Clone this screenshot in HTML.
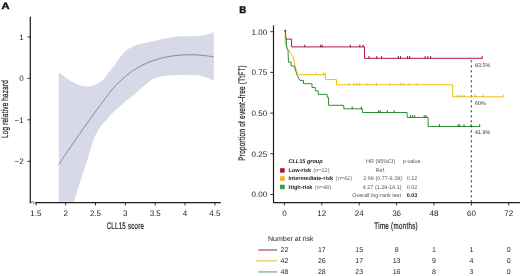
<!DOCTYPE html>
<html><head><meta charset="utf-8"><style>
html,body{margin:0;padding:0;background:#fff;width:520px;height:276px;overflow:hidden}
svg{display:block;will-change:transform}
text{font-family:"Liberation Sans", sans-serif;text-rendering:geometricPrecision}
</style></head><body>
<svg width="520" height="276" viewBox="0 0 520 276">
<text transform="translate(1.6,9.25) scale(1.2,1)" font-size="9.3" font-weight="bold" fill="#111" stroke="#111" stroke-width="0.45">A</text>
<path fill="#d7d8e8" d="M58.8,72.7C59.43,73.12 61.12,74.15 62.6,75.2C64.08,76.25 65.8,77.73 67.7,79C69.6,80.27 71.88,81.73 74,82.8C76.12,83.87 78.28,84.77 80.4,85.4C82.52,86.03 84.8,86.5 86.7,86.6C88.6,86.7 90.1,86.42 91.8,86C93.5,85.58 95.28,84.93 96.9,84.1C98.52,83.27 100.15,82.12 101.5,81C102.85,79.88 103.88,78.73 105,77.4C106.12,76.07 107.12,74.4 108.2,73C109.28,71.6 110.33,70.4 111.5,69C112.67,67.6 114.03,66.17 115.2,64.6C116.37,63.03 117.45,61.1 118.5,59.6C119.55,58.1 120.5,56.87 121.5,55.6C122.5,54.33 123.45,53.05 124.5,52C125.55,50.95 126.55,50.15 127.8,49.3C129.05,48.45 130.52,47.62 132,46.9C133.48,46.18 135.12,45.52 136.7,45C138.28,44.48 139.8,44.18 141.5,43.8C143.2,43.42 145.23,43.07 146.9,42.7C148.57,42.33 150.02,41.93 151.5,41.6C152.98,41.27 154.3,41.03 155.8,40.7C157.3,40.37 158.97,39.97 160.5,39.6C162.03,39.23 163.42,38.87 165,38.5C166.58,38.13 168.5,37.67 170,37.4C171.5,37.13 172.13,37.08 174,36.9C175.87,36.72 178.78,36.4 181.2,36.3C183.62,36.2 186.08,36.32 188.5,36.3C190.92,36.28 193.28,36.35 195.7,36.2C198.12,36.05 200.82,35.77 203,35.4C205.18,35.03 207,34.57 208.8,34C210.6,33.43 212.97,32.33 213.8,32L213.8,81C212.97,80.6 210.6,79.4 208.8,78.6C207,77.8 205.18,76.77 203,76.2C200.82,75.63 198.12,75.42 195.7,75.2C193.28,74.98 190.92,74.95 188.5,74.9C186.08,74.85 183.62,74.85 181.2,74.9C178.78,74.95 176.42,75.07 174,75.2C171.58,75.33 169.12,75.45 166.7,75.7C164.28,75.95 161.67,76.22 159.5,76.7C157.33,77.18 155.4,77.77 153.7,78.6C152,79.43 151.05,80.37 149.3,81.7C147.55,83.03 145.18,84.97 143.2,86.6C141.22,88.23 139.33,89.8 137.4,91.5C135.47,93.2 133.53,95.22 131.6,96.8C129.67,98.38 127.53,99.58 125.8,101C124.07,102.42 122.57,104.03 121.2,105.3C119.83,106.57 118.87,107.48 117.6,108.6C116.33,109.72 114.8,110.88 113.6,112C112.4,113.12 111.33,114.27 110.4,115.3C109.47,116.33 108.82,117.25 108,118.2C107.18,119.15 106.4,120.02 105.5,121C104.6,121.98 103.58,122.95 102.6,124.1C101.62,125.25 100.5,126.63 99.6,127.9C98.7,129.17 97.98,130.3 97.2,131.7C96.42,133.1 95.67,134.52 94.9,136.3C94.13,138.08 93.37,140.12 92.6,142.4C91.83,144.68 91.17,147.07 90.3,150C89.43,152.93 88.73,155.83 87.4,160C86.07,164.17 83.93,170 82.3,175C80.67,180 79.02,185.53 77.6,190C76.18,194.47 74.43,199.83 73.8,201.8L58.8,201.8Z"/>
<path fill="none" stroke="#767aa4" stroke-width="0.85" d="M58.8,164.66C59.3,163.9 60.8,161.61 61.8,160.09C62.8,158.57 63.8,157.06 64.8,155.56C65.8,154.06 66.8,152.56 67.8,151.07C68.8,149.58 69.8,148.1 70.8,146.63C71.8,145.15 72.8,143.69 73.8,142.22C74.8,140.76 75.8,139.31 76.8,137.86C77.8,136.42 78.8,134.98 79.8,133.54C80.8,132.11 81.8,130.68 82.8,129.26C83.8,127.84 84.8,126.43 85.8,125.03C86.8,123.62 87.8,122.22 88.8,120.83C89.8,119.44 90.8,118.05 91.8,116.68C92.8,115.3 93.8,113.93 94.8,112.56C95.8,111.2 96.8,109.84 97.8,108.49C98.8,107.14 99.8,105.8 100.8,104.46C101.8,103.13 103.27,101.19 103.8,100.48C104.33,99.76 103.47,100.91 104,100.17C104.53,99.43 106,97.35 107,96.02C108,94.68 109,93.4 110,92.16C111,90.92 112,89.73 113,88.57C114,87.42 115,86.32 116,85.25C117,84.18 118,83.16 119,82.17C120,81.18 121,80.23 122,79.32C123,78.41 124,77.53 125,76.69C126,75.85 127,75.04 128,74.27C129,73.49 130,72.75 131,72.04C132,71.33 133,70.65 134,70C135,69.34 136,68.72 137,68.12C138,67.53 139,66.96 140,66.41C141,65.87 142,65.35 143,64.86C144,64.36 145,63.89 146,63.44C147,62.99 148,62.57 149,62.16C150,61.75 151,61.37 152,61.01C153,60.64 154,60.3 155,59.97C156,59.64 157,59.34 158,59.04C159,58.75 160,58.48 161,58.23C162,57.97 163,57.73 164,57.5C165,57.28 166,57.07 167,56.88C168,56.68 169,56.51 170,56.34C171,56.17 172,56.02 173,55.89C174,55.75 175,55.62 176,55.51C177,55.4 178,55.3 179,55.22C180,55.13 181,55.06 182,55C183,54.93 184,54.88 185,54.85C186,54.81 187,54.78 188,54.77C189,54.75 190,54.75 191,54.76C192,54.77 193,54.79 194,54.82C195,54.85 196,54.9 197,54.95C198,55.01 199,55.07 200,55.15C201,55.23 202,55.32 203,55.42C204,55.52 205,55.64 206,55.76C207,55.89 208,56.03 209,56.18C210,56.33 211.2,56.54 212,56.68C212.8,56.82 213.5,56.96 213.8,57.01"/>
<path d="M30.3,16.7 V202.55" fill="none" stroke="#1e1e1e" stroke-width="1.25"/>
<path d="M29.8,202.55 H31.3 M35.2,202.55 H220.8" fill="none" stroke="#1e1e1e" stroke-width="1.15"/>
<path d="M31.2,202.6 L32.6,201.1 L34,203.7 L35.4,202.3" fill="none" stroke="#555" stroke-width="0.8"/>
<path d="M27.4,36.95 H30.2" stroke="#1e1e1e" stroke-width="0.9"/>
<text x="23.7" y="39.8" font-size="8" fill="#262626" text-anchor="end">1</text>
<path d="M27.4,78.4 H30.2" stroke="#1e1e1e" stroke-width="0.9"/>
<text x="23.7" y="81.25" font-size="8" fill="#262626" text-anchor="end">0</text>
<path d="M27.4,119.85 H30.2" stroke="#1e1e1e" stroke-width="0.9"/>
<text x="23.7" y="122.7" font-size="8" fill="#262626" text-anchor="end">−1</text>
<path d="M27.4,161.3 H30.2" stroke="#1e1e1e" stroke-width="0.9"/>
<text x="23.7" y="164.15" font-size="8" fill="#262626" text-anchor="end">−2</text>
<path d="M36.1,202.6 V205.5" stroke="#1e1e1e" stroke-width="0.9"/>
<text x="35.8" y="216.2" font-size="8" fill="#262626" text-anchor="middle">1.5</text>
<path d="M65.65,202.6 V205.5" stroke="#1e1e1e" stroke-width="0.9"/>
<text x="65.65" y="216.2" font-size="8" fill="#262626" text-anchor="middle">2</text>
<path d="M95.5,202.6 V205.5" stroke="#1e1e1e" stroke-width="0.9"/>
<text x="95.5" y="216.2" font-size="8" fill="#262626" text-anchor="middle">2.5</text>
<path d="M125.35,202.6 V205.5" stroke="#1e1e1e" stroke-width="0.9"/>
<text x="125.35" y="216.2" font-size="8" fill="#262626" text-anchor="middle">3</text>
<path d="M155.2,202.6 V205.5" stroke="#1e1e1e" stroke-width="0.9"/>
<text x="155.2" y="216.2" font-size="8" fill="#262626" text-anchor="middle">3.5</text>
<path d="M185.05,202.6 V205.5" stroke="#1e1e1e" stroke-width="0.9"/>
<text x="185.05" y="216.2" font-size="8" fill="#262626" text-anchor="middle">4</text>
<path d="M214.9,202.6 V205.5" stroke="#1e1e1e" stroke-width="0.9"/>
<text x="214.9" y="216.2" font-size="8" fill="#262626" text-anchor="middle">4.5</text>
<text transform="translate(125.45,229.4) scale(0.64,1)" letter-spacing="0.445" font-size="9.5" fill="#222" stroke="#222" stroke-width="0.22" text-anchor="middle">CLL15 score</text>
<text transform="translate(8.2,108.98) rotate(-90) scale(0.66,1)" letter-spacing="0.36" font-size="9.5" fill="#222" stroke="#222" stroke-width="0.22" text-anchor="middle">Log relative hazard</text>
<text transform="translate(239.2,12.6) scale(0.97,1)" font-size="10" font-weight="bold" fill="#111" stroke="#111" stroke-width="0.45">B</text>
<path d="M471.3,60.2 V202.6" stroke="#222" stroke-width="0.9" stroke-dasharray="2.2 2.8"/>
<path d="M285.4,30.7 V39.1 H291.6 V46.9 H364.5 V58.3 H482.5" fill="none" stroke="#b8173f" stroke-width="1"/>
<path d="M285.4,30.7 L285.2,43.5 L287,47.5 L289.2,51 L291.2,54 L292.9,56.8 L294,60 L294.9,65.6 L296.5,70.5 L297.6,73.5 L298.7,74.7 H325.4 V79.6 H336.5 V84.8 H452.7 V96.8 H503.3" fill="none" stroke="#ecbf0c" stroke-width="1"/>
<path d="M285.4,30.7 L286.8,48 L288,50.4 L288.5,62.2 H291.1 V66 H294.3 L295.8,71.4 L297.5,75.8 L298.5,78 L299.8,80.4 H303.5 V83.7 H312 V87.5 H315.3 V90.8 H318.2 V94.3 H327.1 V97.4 H328.6 V105.3 H343.8 V108.8 H362.4 V112.5 H407.1 V117.4 H428.1 V126.5 H480" fill="none" stroke="#348a38" stroke-width="1"/>
<path d="M304.8,44.7V47.2M320.7,44.7V47.2M322.2,44.7V47.2M350.3,44.7V47.2M359.8,44.7V47.2M363,44.7V47.2M368.9,56.1V58.6M376.8,56.1V58.6M381.7,56.1V58.6M398.4,56.1V58.6M400.6,56.1V58.6M407.6,56.1V58.6M409.7,56.1V58.6M425.2,56.1V58.6M427.8,56.1V58.6M430.7,56.1V58.6M482.2,56.1V58.6" stroke="#8e0f2e" stroke-width="1"/>
<path d="M316.2,72.5V75M323.5,72.5V75M324.8,72.5V75M348.8,82.6V85.1M354,82.6V85.1M356.6,82.6V85.1M359.2,82.6V85.1M367,82.6V85.1M376.5,82.6V85.1M390,82.6V85.1M400.7,82.6V85.1M403.3,82.6V85.1M409.4,82.6V85.1M417.2,82.6V85.1M457.5,94.6V97.1M459.5,94.6V97.1M462.2,94.6V97.1M464.2,94.6V97.1M474.3,94.6V97.1M476,94.6V97.1M483.1,94.6V97.1M503.3,94.6V97.1" stroke="#c8a83a" stroke-width="0.7"/>
<path d="M352.2,106.6V109.1M361.2,106.6V109.1M378.7,110.3V112.8M380.2,110.3V112.8M387.3,110.3V112.8M394,110.3V112.8M410.3,115.2V117.7M412.4,115.2V117.7M414.7,115.2V117.7M424.2,115.2V117.7M426,115.2V117.7M439.4,124.3V126.8M458,124.3V126.8M459.7,124.3V126.8M464,124.3V126.8M471,124.3V126.8M479.7,124.3V126.8" stroke="#1f6424" stroke-width="1"/>
<circle cx="285.3" cy="30.7" r="0.95" fill="#6e2238"/>
<path d="M273.5,25.4 V202.55" fill="none" stroke="#1e1e1e" stroke-width="1.2"/>
<path d="M273,202.55 H520" fill="none" stroke="#1e1e1e" stroke-width="1.15"/>
<path d="M270.3,194.5 H273.4" stroke="#1e1e1e" stroke-width="0.9"/>
<text x="267.1" y="197.3" font-size="8" fill="#262626" text-anchor="end">0.00</text>
<path d="M270.3,153.8 H273.4" stroke="#1e1e1e" stroke-width="0.9"/>
<text x="267.1" y="156.6" font-size="8" fill="#262626" text-anchor="end">0.25</text>
<path d="M270.3,113.1 H273.4" stroke="#1e1e1e" stroke-width="0.9"/>
<text x="267.1" y="115.9" font-size="8" fill="#262626" text-anchor="end">0.50</text>
<path d="M270.3,72.4 H273.4" stroke="#1e1e1e" stroke-width="0.9"/>
<text x="267.1" y="75.2" font-size="8" fill="#262626" text-anchor="end">0.75</text>
<path d="M270.3,31.7 H273.4" stroke="#1e1e1e" stroke-width="0.9"/>
<text x="267.1" y="34.5" font-size="8" fill="#262626" text-anchor="end">1.00</text>
<path d="M284.4,202.6 V205.5" stroke="#1e1e1e" stroke-width="0.9"/>
<text x="284.4" y="216.3" font-size="8" fill="#262626" text-anchor="middle">0</text>
<path d="M321.8,202.6 V205.5" stroke="#1e1e1e" stroke-width="0.9"/>
<text x="321.8" y="216.3" font-size="8" fill="#262626" text-anchor="middle">12</text>
<path d="M359.2,202.6 V205.5" stroke="#1e1e1e" stroke-width="0.9"/>
<text x="359.2" y="216.3" font-size="8" fill="#262626" text-anchor="middle">24</text>
<path d="M396.6,202.6 V205.5" stroke="#1e1e1e" stroke-width="0.9"/>
<text x="396.6" y="216.3" font-size="8" fill="#262626" text-anchor="middle">36</text>
<path d="M434,202.6 V205.5" stroke="#1e1e1e" stroke-width="0.9"/>
<text x="434" y="216.3" font-size="8" fill="#262626" text-anchor="middle">48</text>
<path d="M471.4,202.6 V205.5" stroke="#1e1e1e" stroke-width="0.9"/>
<text x="471.4" y="216.3" font-size="8" fill="#262626" text-anchor="middle">60</text>
<path d="M508.8,202.6 V205.5" stroke="#1e1e1e" stroke-width="0.9"/>
<text x="508.8" y="216.3" font-size="8" fill="#262626" text-anchor="middle">72</text>
<text transform="translate(396.15,228.9) scale(0.65,1)" letter-spacing="0.47" font-size="9.5" fill="#222" stroke="#222" stroke-width="0.22" text-anchor="middle">Time (months)</text>
<text transform="translate(244.7,112.87) rotate(-90) scale(0.67,1)" letter-spacing="0.384" font-size="9.5" fill="#222" stroke="#222" stroke-width="0.22" text-anchor="middle">Proportion of event–free (TtFT)</text>
<text x="475.1" y="66.6" font-size="5.4" fill="#333">83.5%</text>
<text x="475.1" y="105.3" font-size="5.4" fill="#333">60%</text>
<text x="475.1" y="134.1" font-size="5.4" fill="#333">41.9%</text>
<rect x="280.1" y="168.2" width="4.6" height="4.5" fill="#b3122e"/>
<rect x="280.1" y="176.3" width="4.6" height="4.5" fill="#f0b020"/>
<rect x="280.1" y="184.7" width="4.6" height="4.5" fill="#2f9e3f"/>
<text x="288.4" y="163" font-size="5.55" font-weight="bold" font-style="italic" fill="#222">CLL15 group</text>
<text x="288.4" y="171.8" font-size="5.55" font-weight="bold" fill="#222">Low-risk</text>
<text x="313.3" y="171.8" font-size="5.55" fill="#666">(n=22)</text>
<text x="288.4" y="180.2" font-size="5.55" font-weight="bold" fill="#222">Intermediate-risk</text>
<text x="335.8" y="180.2" font-size="5.55" fill="#666">(n=42)</text>
<text x="288.4" y="188.6" font-size="5.55" font-weight="bold" fill="#222">High-risk</text>
<text x="314.8" y="188.6" font-size="5.55" fill="#666">(n=48)</text>
<text x="380.7" y="162.8" font-size="5.45" fill="#555" text-anchor="middle">HR (95%CI)</text>
<text x="402.7" y="162.8" font-size="5.45" fill="#555">p-value</text>
<text x="380.5" y="171.5" font-size="5.45" fill="#555" text-anchor="middle">Ref.</text>
<text x="402" y="180.2" font-size="5.45" fill="#555" text-anchor="end">2.69 (0.77-9.39)</text>
<text x="406.7" y="180.2" font-size="5.45" fill="#555">0.12</text>
<text x="401.5" y="188.5" font-size="5.45" fill="#555" text-anchor="end">4.27 (1.29-14.1)</text>
<text x="406.7" y="188.5" font-size="5.45" fill="#555">0.02</text>
<text x="401" y="196.9" font-size="5.45" fill="#555" text-anchor="end">Overall log-rank test</text>
<text x="406.7" y="196.9" font-size="5.45" font-weight="bold" fill="#222">0.03</text>
<text x="268" y="241.3" font-size="7" fill="#262626">Number at risk</text>
<path d="M258.3,250 H277.2" stroke="#b4607f" stroke-width="1.4"/>
<text x="284.4" y="252.15" font-size="7" fill="#262626" text-anchor="middle">22</text>
<text x="321.8" y="252.15" font-size="7" fill="#262626" text-anchor="middle">17</text>
<text x="359.2" y="252.15" font-size="7" fill="#262626" text-anchor="middle">15</text>
<text x="396.6" y="252.15" font-size="7" fill="#262626" text-anchor="middle">8</text>
<text x="434" y="252.15" font-size="7" fill="#262626" text-anchor="middle">1</text>
<text x="471.4" y="252.15" font-size="7" fill="#262626" text-anchor="middle">1</text>
<text x="508.8" y="252.15" font-size="7" fill="#262626" text-anchor="middle">0</text>
<path d="M256,260.8 H277.2" stroke="#e2d26c" stroke-width="1.4"/>
<text x="284.4" y="263.35" font-size="7" fill="#262626" text-anchor="middle">42</text>
<text x="321.8" y="263.35" font-size="7" fill="#262626" text-anchor="middle">26</text>
<text x="359.2" y="263.35" font-size="7" fill="#262626" text-anchor="middle">17</text>
<text x="396.6" y="263.35" font-size="7" fill="#262626" text-anchor="middle">13</text>
<text x="434" y="263.35" font-size="7" fill="#262626" text-anchor="middle">9</text>
<text x="471.4" y="263.35" font-size="7" fill="#262626" text-anchor="middle">4</text>
<text x="508.8" y="263.35" font-size="7" fill="#262626" text-anchor="middle">0</text>
<path d="M258.3,271.9 H277.2" stroke="#88b792" stroke-width="1.4"/>
<text x="284.4" y="274" font-size="7" fill="#262626" text-anchor="middle">48</text>
<text x="321.8" y="274" font-size="7" fill="#262626" text-anchor="middle">28</text>
<text x="359.2" y="274" font-size="7" fill="#262626" text-anchor="middle">23</text>
<text x="396.6" y="274" font-size="7" fill="#262626" text-anchor="middle">16</text>
<text x="434" y="274" font-size="7" fill="#262626" text-anchor="middle">8</text>
<text x="471.4" y="274" font-size="7" fill="#262626" text-anchor="middle">3</text>
<text x="508.8" y="274" font-size="7" fill="#262626" text-anchor="middle">0</text>
</svg></body></html>
